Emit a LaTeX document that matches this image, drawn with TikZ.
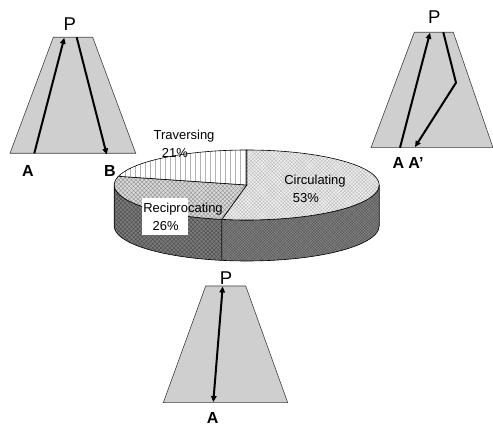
\documentclass[tikz,border=0pt]{standalone}
\usepackage{fontspec}
\setmainfont{Liberation Sans}
\usetikzlibrary{arrows.meta,patterns.meta}
\definecolor{trapfill}{gray}{0.81}
\begin{document}
\begin{tikzpicture}[x=1pt,y=1pt,
  trap/.style={fill=trapfill,draw=black!75,line width=0.6pt},
  tip/.tip={Triangle[length=6pt,width=5.5pt]},
  runpath/.style={line width=2pt,-tip},
  dblpath/.style={line width=2pt,tip-tip},
  plab/.style={font=\fontsize{18.5}{18.5}\selectfont,inner sep=0pt},
  ablab/.style={font=\fontsize{16}{16}\selectfont\bfseries,inner sep=0pt},
  pielab/.style={font=\fontsize{13}{15}\selectfont,inner sep=0pt,align=center},
  pieedge/.style={draw=black,line width=0.6pt}
]
\useasboundingbox (0,0) rectangle (493,426);

% ---------- top-left trapezoid (A -> P -> B)
\path[trap] (10,272.7) -- (53.3,388.7) -- (92.7,388.7) -- (135.7,272.7) -- cycle;
\coordinate (tlA) at (34.3,272.7);
\coordinate (tlP1) at (64.3,388.2);
\coordinate (tlP2) at (76.7,388.7);
\coordinate (tlB) at (106.7,271.5);
\draw[runpath] (tlA) -- (tlP1);
\draw[runpath] (tlP2) -- (tlB);
\node[plab] (tlPlab) at (69.7,402) {P};
\node[ablab] (tlAlab) at (28,255) {A};
\node[ablab] (tlBlab) at (110,255) {B};

% ---------- top-right trapezoid (A -> P -> A')
\path[trap] (371,278.3) -- (414.3,393.7) -- (453.3,393.7) -- (493,278.3) -- cycle;
\coordinate (trA) at (400,278.3);
\coordinate (trP1) at (430,393.2);
\coordinate (trP2) at (443.3,393.7);
\coordinate (trK) at (456,343.3);
\coordinate (trA2) at (415,279);
\draw[runpath] (trA) -- (trP1);
\draw[runpath,line join=miter] (trP2) -- (trK) -- (trA2);
\node[plab] (trPlab) at (434.3,409.3) {P};
\node[ablab] (trAlab) at (398.3,263) {A};
\node[ablab] (trA2lab) at (416,263) {A’};

% ---------- bottom trapezoid (A <-> P)
\path[trap] (163.3,23.3) -- (205.7,140) -- (245.7,140) -- (287.7,23.3) -- cycle;
\coordinate (bP) at (222.7,139.5);
\coordinate (bA) at (213.3,24);
\draw[dblpath] (bA) -- (bP);
\node[plab] (bPlab) at (226,148.3) {P};
\node[ablab] (bAlab) at (212.7,8) {A};

% ---------- 3D pie
\def\cx{246.7}\def\cy{241}\def\rx{132.5}\def\ry{35}\def\dp{41}
\coordinate (pc) at (\cx,\cy);
\coordinate (ptop) at (\cx,\cy+\ry);
\coordinate (pW) at (\cx-\rx,\cy);
\coordinate (pfront) at ({\cx+\rx*cos(259.2)},{\cy+\ry*sin(259.2)});
\coordinate (pleft) at ({\cx+\rx*cos(165.6)},{\cy+\ry*sin(165.6)});

% side faces
\path[pieedge,preaction={fill=black!52},pattern={Hatch[angle=45,distance=3pt,line width=0.35pt]},pattern color=black!72]
  (pW) arc[start angle=180,end angle=259.2,x radius=\rx pt,y radius=\ry pt]
  -- ++(0,-\dp) arc[start angle=259.2,end angle=180,x radius=\rx pt,y radius=\ry pt] -- cycle;
\path[pieedge,preaction={fill=black!48},pattern={Hatch[angle=45,distance=2pt,line width=0.3pt]},pattern color=black!68]
  (pfront) arc[start angle=259.2,end angle=360,x radius=\rx pt,y radius=\ry pt]
  -- ++(0,-\dp) arc[start angle=360,end angle=259.2,x radius=\rx pt,y radius=\ry pt] -- cycle;

% top faces
\path[pieedge,preaction={fill=black!6},pattern={Hatch[angle=45,distance=2.5pt,line width=0.3pt]},pattern color=black!30]
  (pc) -- (ptop) arc[start angle=90,end angle=-100.8,x radius=\rx pt,y radius=\ry pt] -- cycle;
\path[pieedge,preaction={fill=black!15},pattern={Hatch[angle=45,distance=3pt,line width=0.35pt]},pattern color=black!45]
  (pc) -- (pfront) arc[start angle=259.2,end angle=165.6,x radius=\rx pt,y radius=\ry pt] -- cycle;
\path[pieedge,preaction={fill=white},pattern={Lines[angle=90,distance=5pt,line width=0.4pt]},pattern color=black!30]
  (pc) -- (pleft) arc[start angle=165.6,end angle=90,x radius=\rx pt,y radius=\ry pt] -- cycle;

% labels
\fill[white] (141.7,191) rectangle (188.3,227.7);
\node[pielab] (travlab) at (184,291) {Traversing};
\node[pielab] (travpct) at (175,273.3) {21\%};
\node[pielab] (circlab) at (315,246) {Circulating};
\node[pielab] (circpct) at (306,228) {53\%};
\node[pielab] (reclab) at (183,218.7) {Reciprocating};
\node[pielab] (recpct) at (165.7,200.3) {26\%};
\end{tikzpicture}
\end{document}
